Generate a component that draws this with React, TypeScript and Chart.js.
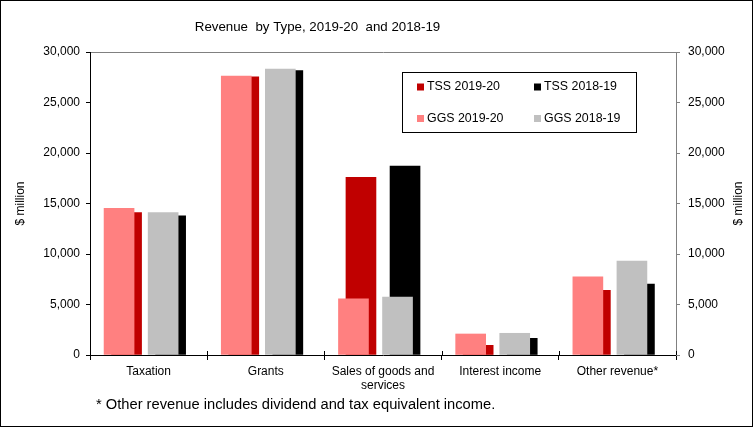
import React, { useEffect, useRef } from "react";
import { Chart, registerables } from "chart.js";

Chart.register(...registerables);

// ---- data ----
const categories: (string | string[])[] = [
  "Taxation",
  "Grants",
  ["Sales of goods and", "services"],
  "Interest income",
  "Other revenue*",
];
const ggs2019_20 = [14520, 27620, 5570, 2080, 7750];
const tss2019_20 = [14090, 27550, 17590, 960, 6400];
const ggs2018_19 = [14090, 28310, 5740, 2150, 9300];
const tss2018_19 = [13790, 28150, 18710, 1650, 7030];
const yMin = 0;
const yMax = 30000;
const yStep = 5000;

const titleText = "Revenue  by Type, 2019-20  and 2018-19";
const axisTitle = "$ million";
const footnote = "* Other revenue includes dividend and tax equivalent income.";
const legendItems = [
  { label: "TSS 2019-20", color: "#C00000" },
  { label: "TSS 2018-19", color: "#000000" },
  { label: "GGS 2019-20", color: "#FF8080" },
  { label: "GGS 2018-19", color: "#C0C0C0" },
];

// ---- layout (positions within each category, in category units) ----
const OFF_GGS19 = -0.252;
const OFF_TSS19 = -0.188;
const OFF_GGS18 = 0.124;
const OFF_TSS18 = 0.188;
const FONT = '"Liberation Sans", Arial, sans-serif';

const pts = (vals: number[], off: number) => vals.map((v, i) => ({ x: i + off, y: v }));

const decorPlugin = {
  id: "decor",
  beforeDraw(chart: any) {
    const ctx = chart.ctx;
    ctx.save();
    ctx.fillStyle = "#ffffff";
    ctx.fillRect(0, 0, chart.width, chart.height);
    ctx.restore();
  },
  afterDraw(chart: any) {
    const ctx = chart.ctx;
    const ca = chart.chartArea;
    ctx.save();
    // x-axis tick marks crossing upward
    ctx.strokeStyle = "#000";
    ctx.lineWidth = 1;
    const n = categories.length;
    const w = (ca.right - ca.left) / n;
    for (let i = 0; i <= n; i++) {
      const px = Math.round(ca.left + i * w) + 0.5;
      ctx.beginPath();
      ctx.moveTo(px, ca.bottom - 4);
      ctx.lineTo(px, ca.bottom);
      ctx.stroke();
    }
    ctx.fillStyle = "#000";
    // title
    ctx.font = `13.3px ${FONT}`;
    ctx.textAlign = "center";
    ctx.textBaseline = "middle";
    ctx.fillText(titleText, 317.5, 27);
    // axis titles
    ctx.font = `12px ${FONT}`;
    const midY = (ca.top + ca.bottom) / 2;
    ctx.save();
    ctx.translate(21, midY);
    ctx.rotate(-Math.PI / 2);
    ctx.fillText(axisTitle, 0, 0);
    ctx.restore();
    ctx.save();
    ctx.translate(739, midY);
    ctx.rotate(-Math.PI / 2);
    ctx.fillText(axisTitle, 0, 0);
    ctx.restore();
    // legend box
    ctx.strokeRect(402.5, 72.5, 234, 60);
    ctx.font = `12.4px ${FONT}`;
    ctx.textAlign = "left";
    const cols = [417, 534];
    const rows = [87, 118.5];
    legendItems.forEach((it, i) => {
      const cx = cols[i % 2];
      const cy = rows[Math.floor(i / 2)];
      ctx.fillStyle = it.color;
      ctx.fillRect(cx, cy - 3.5, 7, 7);
      ctx.fillStyle = "#000";
      ctx.fillText(it.label, cx + 10, cy);
    });
    // footnote
    ctx.font = `14.7px ${FONT}`;
    ctx.fillText(footnote, 96, 405);
    // outer border
    ctx.strokeRect(0.5, 0.5, chart.width - 1, chart.height - 1);
    ctx.restore();
  },
};

export default function App() {
  const ref = useRef<HTMLCanvasElement | null>(null);
  useEffect(() => {
    if (!ref.current) return;
    const tickFont = { family: FONT, size: 12 };
    const fmt = (v: any) => Number(v).toLocaleString("en-US");
    const chart = new Chart(ref.current, {
      type: "bar",
      data: {
        datasets: [
          { label: "GGS 2019-20", data: pts(ggs2019_20, OFF_GGS19), backgroundColor: "#FF8080", order: 0 },
          { label: "GGS 2018-19", data: pts(ggs2018_19, OFF_GGS18), backgroundColor: "#C0C0C0", order: 0 },
          { label: "TSS 2019-20", data: pts(tss2019_20, OFF_TSS19), backgroundColor: "#C00000", order: 1 },
          { label: "TSS 2018-19", data: pts(tss2018_19, OFF_TSS18), backgroundColor: "#000000", order: 1 },
        ].map((d) => ({ ...d, xAxisID: "xb", yAxisID: "y", grouped: false, barThickness: 30, borderWidth: 0 })),
      },
      options: {
        responsive: false,
        animation: false,
        layout: { padding: { top: 52, left: 0, right: 0, bottom: 0 } },
        plugins: { legend: { display: false }, title: { display: false }, tooltip: { enabled: false } },
        scales: {
          x: {
            type: "category",
            labels: categories as any,
            position: "bottom",
            offset: true,
            grid: { offset: true, drawOnChartArea: false, tickLength: 5, tickColor: "#000" },
            border: { color: "#000" },
            ticks: { font: tickFont, color: "#000", padding: 4, maxRotation: 0, autoSkip: false },
            afterFit: (s: any) => {
              s.height = 72;
            },
          },
          xb: { type: "linear", display: false, min: -0.5, max: 4.5, offset: false, position: "bottom" },
          y: {
            position: "left",
            min: yMin,
            max: yMax,
            ticks: { stepSize: yStep, font: tickFont, color: "#000", padding: 6, callback: fmt },
            grid: {
              color: (c: any) => (c.tick && c.tick.value === yMax ? "#808080" : "rgba(0,0,0,0)"),
              tickColor: "#000",
              tickLength: 4,
            },
            border: { color: "#000" },
            afterFit: (s: any) => {
              s.width = 90;
            },
          },
          y2: {
            position: "right",
            min: yMin,
            max: yMax,
            ticks: { stepSize: yStep, font: tickFont, color: "#000", padding: 8, callback: fmt },
            grid: { drawOnChartArea: false, tickColor: "#808080", tickLength: 4 },
            border: { color: "#808080" },
            afterFit: (s: any) => {
              s.width = 77;
            },
          },
        },
      } as any,
      plugins: [decorPlugin],
    });
    return () => chart.destroy();
  }, []);
  return (
    <div style={{ position: "absolute", left: 0, top: 0, width: 753, height: 427 }}>
      <canvas ref={ref} width={753} height={427} style={{ display: "block", width: 753, height: 427 }} />
    </div>
  );
}
